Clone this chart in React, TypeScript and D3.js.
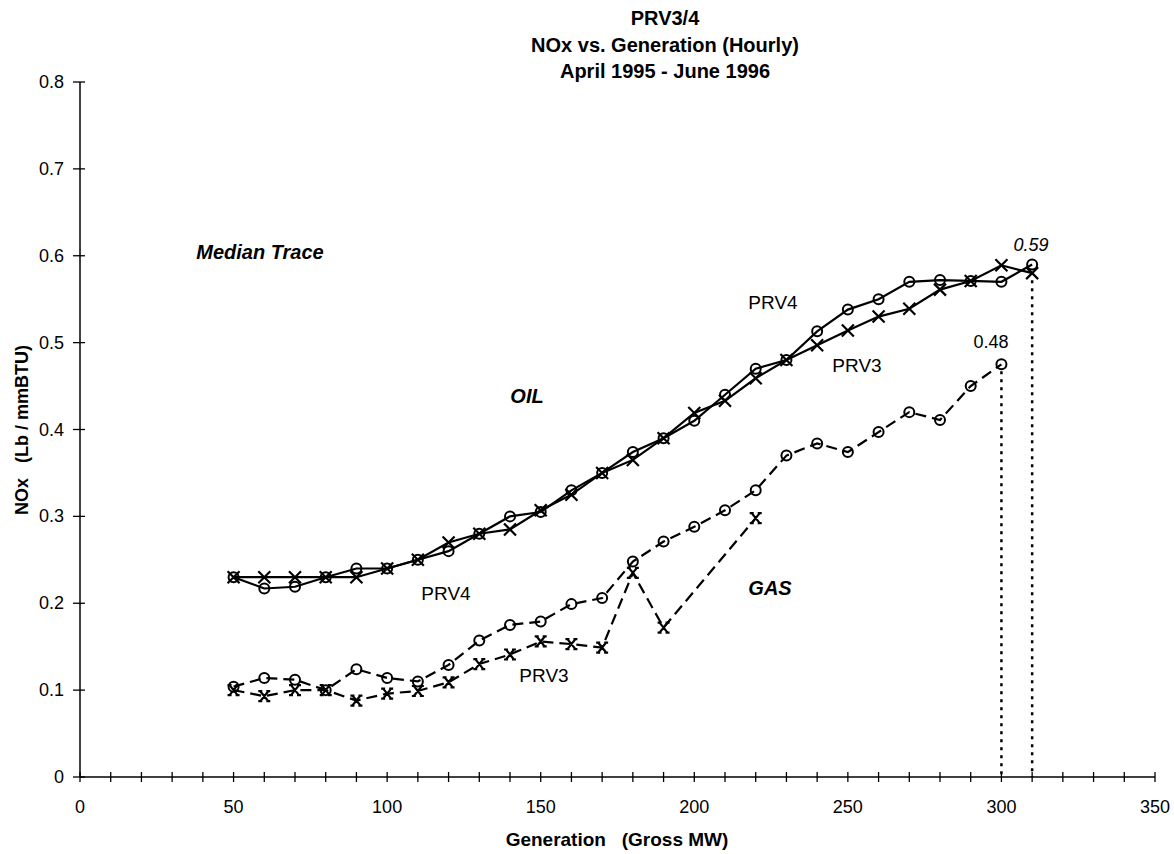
import React, { useRef, useEffect } from "react";
import * as d3 from "d3";

// generation (Gross MW) for the oil traces
const oilGen = [50, 60, 70, 80, 90, 100, 110, 120, 130, 140, 150, 160, 170, 180, 190, 200, 210, 220, 230, 240, 250, 260, 270, 280, 290, 300, 310];
const oilPrv4 = [0.23, 0.217, 0.219, 0.23, 0.24, 0.24, 0.25, 0.26, 0.28, 0.3, 0.305, 0.33, 0.35, 0.374, 0.39, 0.41, 0.44, 0.47, 0.48, 0.513, 0.538, 0.55, 0.57, 0.572, 0.571, 0.57, 0.59];
const oilPrv3 = [0.23, 0.23, 0.23, 0.23, 0.23, 0.24, 0.25, 0.27, 0.28, 0.285, 0.307, 0.325, 0.35, 0.365, 0.39, 0.419, 0.433, 0.459, 0.48, 0.497, 0.514, 0.53, 0.539, 0.561, 0.571, 0.589, 0.58];

const gasGen4 = [50, 60, 70, 80, 90, 100, 110, 120, 130, 140, 150, 160, 170, 180, 190, 200, 210, 220, 230, 240, 250, 260, 270, 280, 290, 300];
const gasPrv4 = [0.104, 0.114, 0.112, 0.1, 0.124, 0.114, 0.11, 0.129, 0.157, 0.175, 0.179, 0.199, 0.206, 0.248, 0.271, 0.288, 0.307, 0.33, 0.37, 0.384, 0.374, 0.397, 0.42, 0.411, 0.45, 0.475];
const gasGen3 = [50, 60, 70, 80, 90, 100, 110, 120, 130, 140, 150, 160, 170, 180, 190, 220];
const gasPrv3 = [0.1, 0.093, 0.1, 0.1, 0.088, 0.096, 0.099, 0.109, 0.13, 0.141, 0.156, 0.153, 0.149, 0.235, 0.172, 0.298];

const titleLines = ["PRV3/4", "NOx vs. Generation (Hourly)", "April 1995 - June 1996"];
const xTickLabels = [0, 50, 100, 150, 200, 250, 300, 350];
const yTickLabels = [0, 0.1, 0.2, 0.3, 0.4, 0.5, 0.6, 0.7, 0.8];

const FONT = "'Liberation Sans', Arial, Helvetica, sans-serif";

const App = () => {
  const ref = useRef<SVGSVGElement>(null);

  useEffect(() => {
    document.body.style.margin = "0";
    const svg = d3.select(ref.current);
    svg.selectAll("*").remove();

    const x = d3.scaleLinear().domain([0, 350]).range([80, 1155]);
    const y = d3.scaleLinear().domain([0, 0.8]).range([777, 82]);

    // axes
    svg.append("line").attr("x1", x(0)).attr("x2", x(350)).attr("y1", y(0)).attr("y2", y(0))
      .attr("stroke", "black").attr("stroke-width", 1.5);
    svg.append("line").attr("x1", x(0)).attr("x2", x(0)).attr("y1", y(0)).attr("y2", y(0.8))
      .attr("stroke", "black").attr("stroke-width", 1.5);

    svg.append("g").selectAll("line").data(d3.range(0, 351, 10)).join("line")
      .attr("x1", (d) => x(d)).attr("x2", (d) => x(d))
      .attr("y1", y(0) - 5).attr("y2", y(0) + 5)
      .attr("stroke", "black").attr("stroke-width", 1.3);

    svg.append("g").selectAll("line").data(yTickLabels).join("line")
      .attr("x1", x(0) - 7).attr("x2", x(0) + 5)
      .attr("y1", (d) => y(d)).attr("y2", (d) => y(d))
      .attr("stroke", "black").attr("stroke-width", 1.3);

    svg.append("g").selectAll("text").data(xTickLabels).join("text")
      .attr("x", (d) => x(d)).attr("y", y(0) + 36)
      .attr("text-anchor", "middle").attr("font-family", FONT).attr("font-size", 18)
      .text((d) => d);

    svg.append("g").selectAll("text").data(yTickLabels).join("text")
      .attr("x", x(0) - 16).attr("y", (d) => y(d) + 6)
      .attr("text-anchor", "end").attr("font-family", FONT).attr("font-size", 18)
      .text((d) => (d === 0 ? "0" : d3.format(".1f")(d)));

    // titles
    svg.append("g").selectAll("text").data(titleLines).join("text")
      .attr("x", 665).attr("y", (d, i) => 25 + i * 26.5)
      .attr("text-anchor", "middle").attr("font-family", FONT)
      .attr("font-size", 20).attr("font-weight", "bold")
      .text((d) => d);

    svg.append("text").attr("x", 617).attr("y", 846)
      .attr("text-anchor", "middle").attr("font-family", FONT)
      .attr("font-size", 19).attr("font-weight", "bold")
      .attr("xml:space", "preserve")
      .text("Generation   (Gross MW)");

    svg.append("text").attr("transform", "translate(28,430) rotate(-90)")
      .attr("text-anchor", "middle").attr("font-family", FONT)
      .attr("font-size", 18).attr("font-weight", "bold")
      .attr("xml:space", "preserve")
      .text("NOx   (Lb / mmBTU)");

    // drop lines
    const drops = [
      [gasGen4[gasGen4.length - 1], gasPrv4[gasPrv4.length - 1]],
      [oilGen[oilGen.length - 1], oilPrv3[oilPrv3.length - 1]],
    ];
    svg.append("g").selectAll("line").data(drops).join("line")
      .attr("x1", (d) => x(d[0])).attr("x2", (d) => x(d[0]))
      .attr("y1", (d) => y(d[1]) + 7).attr("y2", y(0))
      .attr("stroke", "black").attr("stroke-width", 2.5)
      .attr("stroke-dasharray", "3,5");

    const line = d3.line<[number, number]>().x((d) => x(d[0])).y((d) => y(d[1]));

    const series = [
      { gen: oilGen, vals: oilPrv4, dash: null, mark: "circle" },
      { gen: oilGen, vals: oilPrv3, dash: null, mark: "x" },
      { gen: gasGen4, vals: gasPrv4, dash: "11,6", mark: "circle" },
      { gen: gasGen3, vals: gasPrv3, dash: "11,6", mark: "star" },
    ];

    series.forEach((s) => {
      const pts: [number, number][] = s.gen.map((g, i) => [g, s.vals[i]]);
      svg.append("path").datum(pts).attr("d", line)
        .attr("fill", "none").attr("stroke", "black").attr("stroke-width", 2.2)
        .attr("stroke-dasharray", s.dash);

      const g = svg.append("g");
      if (s.mark === "circle") {
        g.selectAll("circle").data(pts).join("circle")
          .attr("cx", (d) => x(d[0])).attr("cy", (d) => y(d[1])).attr("r", 5)
          .attr("fill", "none").attr("stroke", "black").attr("stroke-width", 2);
      } else {
        const shape = s.mark === "x"
          ? "M-6,-6L6,6M6,-6L-6,6"
          : "M-4,-5L4,5M4,-5L-4,5M-6,-5L-2,-5M2,-5L6,-5M-6,5L-2,5M2,5L6,5";
        g.selectAll("path").data(pts).join("path")
          .attr("d", shape)
          .attr("transform", (d) => `translate(${x(d[0])},${y(d[1])})`)
          .attr("fill", "none").attr("stroke", "black").attr("stroke-width", 2.2);
      }
    });

    // annotations
    const notes = [
      { t: "Median Trace", x: 260, y: 259, w: "bold", s: "italic", f: 20 },
      { t: "OIL", x: 527, y: 403, w: "bold", s: "italic", f: 20 },
      { t: "GAS", x: 770, y: 595, w: "bold", s: "italic", f: 20 },
      { t: "PRV4", x: 773, y: 309, w: "normal", s: "normal", f: 19 },
      { t: "PRV3", x: 857, y: 372, w: "normal", s: "normal", f: 19 },
      { t: "PRV4", x: 446, y: 600, w: "normal", s: "normal", f: 19 },
      { t: "PRV3", x: 544, y: 682, w: "normal", s: "normal", f: 19 },
      { t: "0.59", x: 1031, y: 251, w: "normal", s: "italic", f: 18 },
      { t: "0.48", x: 991, y: 348, w: "normal", s: "normal", f: 18 },
    ];
    svg.append("g").selectAll("text").data(notes).join("text")
      .attr("x", (d) => d.x).attr("y", (d) => d.y)
      .attr("text-anchor", "middle").attr("font-family", FONT)
      .attr("font-size", (d) => d.f).attr("font-weight", (d) => d.w)
      .attr("font-style", (d) => d.s)
      .text((d) => d.t);
  });

  return <svg ref={ref} width={1174} height={854} style={{ display: "block", background: "white" }}></svg>;
};

export default App;
